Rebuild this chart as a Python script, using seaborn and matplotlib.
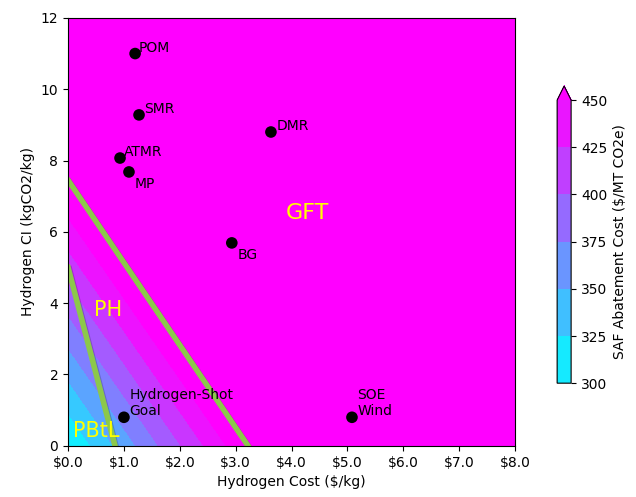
import matplotlib
matplotlib.use("Agg")
import matplotlib.pyplot as plt
import matplotlib.patheffects as pe
from matplotlib.ticker import FormatStrFormatter
import numpy as np
import pandas as pd
import seaborn as sns

# Hydrogen pathways (cost $/kg, carbon intensity kgCO2/kg)
names = ["POM", "SMR", "DMR", "ATMR", "MP", "BG", "Hydrogen-Shot\nGoal", "SOE\nWind"]
h2_cost = [1.20, 1.27, 3.63, 0.93, 1.09, 2.93, 1.00, 5.08]
h2_ci = [11.0, 9.28, 8.80, 8.07, 7.68, 5.69, 0.80, 0.80]
# label offsets (dx, dy) in data units
label_dx = [0.07, 0.1, 0.1, 0.07, 0.1, 0.1, 0.1, 0.1]
label_dy = [0.05, 0.05, 0.05, 0.05, -0.45, -0.45, 0.05, 0.05]

# SAF abatement cost surface: cost = base + slope_x * H2 cost + slope_y * H2 CI
base_cost = 300.0
slope_cost = 150.0 / 2.83
slope_ci = 150.0 / 6.4
levels = np.linspace(300, 450, 8)
cbar_levels = [300, 325, 350, 375, 400, 425, 450]

# pathway boundary lines (x-intercept, y-intercept)
boundary_x = [3.22, 0.84]
boundary_y = [7.45, 5.0]

# region labels
regions = ["GFT", "PH", "PBtL"]
region_x = [3.9, 0.47, 0.08]
region_y = [6.35, 3.65, 0.25]
region_size = [16, 15, 15]

df = pd.DataFrame({"name": names, "cost": h2_cost, "ci": h2_ci})

fig = plt.figure(figsize=(6.36, 4.97), dpi=100)
ax = fig.add_axes([0.107, 0.103, 0.703, 0.861])
cax = fig.add_axes([0.876, 0.229, 0.022, 0.598])

xx, yy = np.meshgrid(np.linspace(0, 8, 400), np.linspace(0, 12, 400))
zz = base_cost + slope_cost * xx + slope_ci * yy
cs = ax.contourf(xx, yy, zz, levels=levels, cmap="cool", extend="max")

# colorbar with 25-unit steps, built from a hidden contour set
dax = fig.add_axes([0, 0, 0.01, 0.01])
dax.set_visible(False)
cs_bar = dax.contourf(xx, yy, zz, levels=cbar_levels, cmap="cool", extend="max")
cb = fig.colorbar(cs_bar, cax=cax, ticks=cbar_levels)
cb.set_label("SAF Abatement Cost ($/MT CO2e)")

for bx, by in zip(boundary_x, boundary_y):
    ax.plot([0, bx], [by, 0], color="#8cc84b", lw=4,
            path_effects=[pe.SimpleLineShadow(offset=(1, -1), alpha=0.2), pe.Normal()])

sns.scatterplot(data=df, x="cost", y="ci", color="black", s=70, edgecolor="none",
                ax=ax, zorder=5)
for n, x, y, dx, dy in zip(names, h2_cost, h2_ci, label_dx, label_dy):
    ax.text(x + dx, y + dy, n, fontsize=10, color="black", zorder=6)

for r, x, y, s in zip(regions, region_x, region_y, region_size):
    ax.text(x, y, r, fontsize=s, color="yellow", zorder=6)

ax.set_xlim(0, 8)
ax.set_ylim(0, 12)
ax.set_xticks(np.arange(0, 9, 1))
ax.set_yticks(np.arange(0, 13, 2))
ax.xaxis.set_major_formatter(FormatStrFormatter("$%.1f"))
ax.set_xlabel("Hydrogen Cost ($/kg)")
ax.set_ylabel("Hydrogen CI (kgCO2/kg)")

fig.savefig("out.png", dpi=100)
